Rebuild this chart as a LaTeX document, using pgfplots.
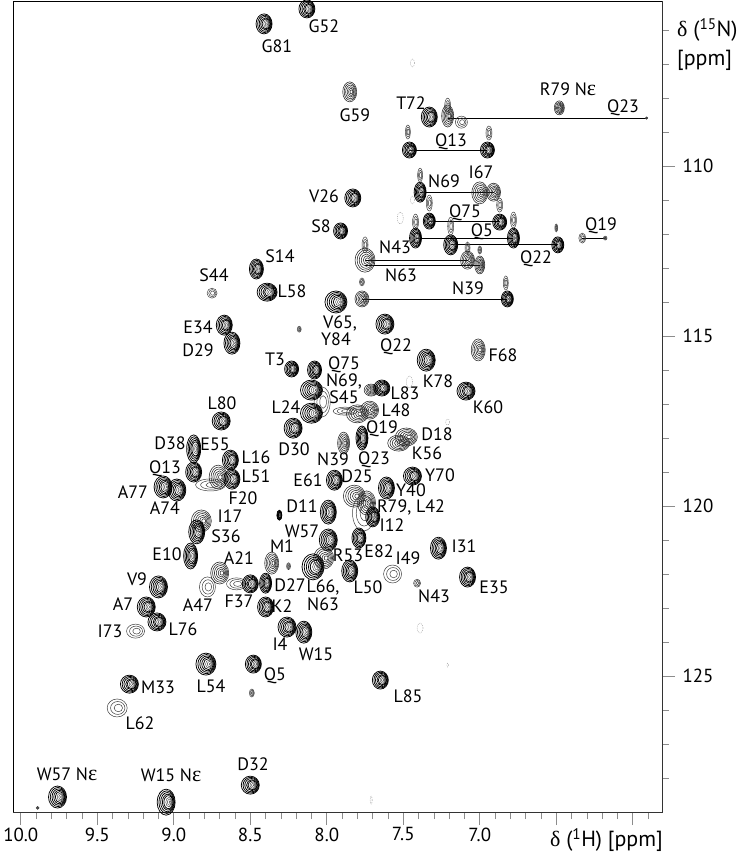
\documentclass[border=0pt]{standalone}
\usepackage{pgfplots}
\usepackage{fontspec}
\setmainfont{PT Sans}
\newfontfamily\grk{Liberation Serif}
\pgfplotsset{compat=1.18}
\newcommand\rng[2]{\pgfpathellipse{\pgfpoint{(1-#1)*#2*\prx bp}{0pt}}{\pgfpoint{#1*\prx bp}{0pt}}{\pgfpoint{0pt}{#1*\pry bp}}\pgfusepath{stroke}}
\pgfdeclareplotmark{pk}{%
  \pgfmathtruncatemacro\ptyi{\pty}%
  \ifnum\ptyi=1
    \pgfsetlinewidth{0.75bp}\pgfsetstrokecolor{black}%
    \foreach \f in {1,0.87,0.74,0.61,0.5}{\rng{\f}{0.5}}%
    \pgfsetlinewidth{0.4bp}\pgfsetstrokecolor{black!80}%
    \foreach \f in {0.36,0.24,0.12}{\rng{\f}{0.5}}%
  \fi
  \ifnum\ptyi=2
    \pgfsetlinewidth{0.55bp}\pgfsetstrokecolor{black!85}%
    \foreach \f in {1,0.84,0.68,0.52,0.36,0.2}{\rng{\f}{0.3}}%
  \fi
  \ifnum\ptyi=3
    \pgfsetlinewidth{0.5bp}\pgfsetstrokecolor{black!75}%
    \foreach \f in {1,0.72,0.42}{\rng{\f}{0.2}}%
  \fi
  \ifnum\ptyi=4
    \pgfsetlinewidth{0.35bp}\pgfsetstrokecolor{black!45}\pgfsetdash{{1bp}{1bp}}{0bp}%
    \pgfpathellipse{\pgfpointorigin}{\pgfpoint{\prx bp}{0pt}}{\pgfpoint{0pt}{\pry bp}}\pgfusepath{stroke}%
  \fi
}
\pgfplotstableread{
H N rx ry t
8.41 105.82 8 10 1
8.13 105.38 8 9 1
7.85 107.82 7 10 2
7.21 108.24 3 8 3
7.12 108.71 6 6 3
7.33 108.56 8 10 1
7.21 108.53 6 11 2
6.48 108.29 5 7 2
5.91 108.59 1.2 1.2 3
7.47 109.00 2.5 7 3
7.46 109.53 7 8 1
6.94 109.03 3 7 3
6.95 109.53 7 8 1
7.39 110.27 2.5 7 3
7.39 110.77 6 10 1
7.00 110.79 8 11 2
6.91 110.77 7 9 2
7.33 111.09 3 8 3
7.33 111.62 6 8 1
6.87 111.15 3 7 3
6.87 111.65 7 8 1
7.42 111.65 3 8 3
7.42 112.12 6 10 1
7.19 111.77 3 9 3
7.19 112.32 7 10 1
6.78 111.59 3 8 3
6.78 112.12 6 10 1
6.50 111.82 1.5 4 3
6.49 112.32 6 8 1
6.33 112.12 3.5 5 3
6.18 112.12 1.8 2 3
7.75 112.32 3 8 3
7.75 112.77 10 12 2
7.77 113.41 2.5 4 3
7.08 112.41 2.5 6 3
7.08 112.77 7 9 2
7.00 112.47 2 4 3
7.00 112.91 5 9 2
7.77 113.91 7 8 2
6.83 113.44 2.5 7 3
6.82 113.91 6 8 1
7.83 110.94 8 9 1
7.91 111.91 7 8 1
7.94 114.00 11 11 1
7.62 114.65 9 10 1
8.46 113.03 7 10 1
8.75 113.74 5 5 3
8.39 113.71 10 9 1
8.67 114.68 8 10 1
8.62 115.21 8 11 1
8.18 114.80 2 3 3
8.23 115.97 7 8 1
8.08 116.00 7 9 1
8.03 116.94 8 15 3
8.10 116.59 11 10 1
8.10 117.27 11 10 1
7.71 116.59 7 6 2
7.64 116.53 8 8 1
7.35 115.71 9 11 1
7.01 115.41 7 11 2
7.09 116.62 9 9 1
7.88 117.21 12 4 3
7.80 117.29 11 9 2
7.72 117.18 9 9 2
8.22 117.71 9 10 1
7.89 118.15 6 11 2
7.77 118.00 6 12 1
7.48 117.97 11 9 2
7.53 118.15 11 8 2
7.44 119.12 9 9 1
7.95 119.24 8 10 1
7.61 119.47 8 11 1
7.76 120.21 11 18 3
7.82 119.71 11 11 2
7.74 119.91 9 12 2
7.70 120.32 7 10 1
7.99 120.18 8 12 1
8.31 120.27 2.5 5 1
7.99 121.00 9 11 1
7.79 120.94 7 10 1
8.02 121.53 10 11 2
8.09 121.79 11 13 1
7.85 121.91 8 11 1
7.57 122.00 9 9 3
7.27 121.24 8 11 1
7.08 122.09 8 10 1
7.41 122.27 3.5 4 3
8.25 121.77 2 3.5 3
8.36 121.68 7 11 2
8.59 122.29 10 6 3
8.40 122.27 6 10 1
8.50 122.29 8 9 1
8.69 117.50 9 9 1
8.87 118.32 7 14 1
8.87 119.00 8 10 1
8.76 119.38 15 6 3
8.63 118.65 8 10 1
8.71 119.15 9 12 2
8.62 119.21 8 10 1
9.07 119.44 9 11 1
8.98 119.53 9 11 1
8.82 120.44 10 11 2
8.85 120.76 8 12 1
8.89 121.47 7 13 1
8.70 121.97 9 11 2
8.78 122.38 8 10 3
9.10 122.38 9 11 1
9.18 122.97 9 10 1
9.11 123.41 9 9 1
9.25 123.68 9 7 3
8.40 122.97 8 10 1
8.26 123.56 9 10 1
8.15 123.71 8 11 1
8.48 124.65 8 9 1
8.49 125.50 2.5 4 3
7.65 125.12 8 9 1
8.79 124.65 10 11 1
9.29 125.24 9 9 1
9.37 125.94 10 9 3
9.76 128.56 9 11 1
9.05 128.71 9 13 1
8.50 128.21 9 9 1
9.89 128.88 1.5 1.5 3
7.44 106.97 2 4 4
7.52 111.53 3 6 4
7.44 111.00 2 4 4
7.46 116.35 3 6 4
7.21 117.53 2 3 4
7.39 123.59 3 5 4
7.71 128.65 1 4 4
7.21 124.68 0.7 2 4
}\peaks
\newcommand\lb[3]{\node[inner sep=0pt,text height=11bp,text depth=0bp] at ({(#1-13)*1bp},{(812-#2)*1bp}) {#3};}
\newcommand\eps{{\grk\fontsize{22}{22}\selectfont ε}}
\begin{document}
\begin{tikzpicture}
\useasboundingbox (-13bp,-41bp) rectangle (728bp,812bp);
\begin{axis}[
  at={(0,0)},anchor=south west,scale only axis,
  width=649bp,height=811bp,
  x dir=reverse,y dir=reverse,
  xmin=5.809,xmax=10.051,ymin=105.147,ymax=129.0,
  xtick={6,6.5,7,7.5,8,8.5,9,9.5,10},
  xticklabels={,,7.0,7.5,8.0,8.5,9.0,9.5,10.0},
  minor xtick={5.8,5.9,6.1,6.2,6.3,6.4,6.6,6.7,6.8,6.9,7.1,7.2,7.3,7.4,7.6,7.7,7.8,7.9,8.1,8.2,8.3,8.4,8.6,8.7,8.8,8.9,9.1,9.2,9.3,9.4,9.6,9.7,9.8,9.9},
  ytick={110,115,120,125},
  yticklabels={110,115,120,125},
  minor ytick={106,107,108,109,111,112,113,114,116,117,118,119,121,122,123,124,126,127,128},
  xtick pos=bottom,ytick pos=right,
  tick align=outside,
  major tick length=13bp,minor tick length=7bp,
  every tick/.style={black!45,line width=0.9bp},
  every minor tick/.style={black!45,line width=0.7bp},
  tick label style={font=\fontsize{19}{22}\selectfont},
  yticklabel style={xshift=4bp},
  xticklabel style={yshift=1bp},
  axis line style={black!80,line width=0.9bp},
  clip=true,
]
\addplot[black,line width=0.8bp] coordinates {(7.21,108.59)(5.91,108.59)};
\addplot[black,line width=0.8bp] coordinates {(7.46,109.53)(6.95,109.53)};
\addplot[black,line width=0.8bp] coordinates {(7.39,110.77)(6.91,110.77)};
\addplot[black,line width=0.8bp] coordinates {(7.33,111.62)(6.87,111.62)};
\addplot[black,line width=0.8bp] coordinates {(7.42,112.12)(6.78,112.12)};
\addplot[black,line width=0.8bp] coordinates {(7.19,112.32)(6.49,112.32)};
\addplot[black,line width=0.8bp] coordinates {(6.33,112.12)(6.18,112.12)};
\addplot[black,line width=0.8bp] coordinates {(7.75,112.77)(7.08,112.77)};
\addplot[black,line width=0.8bp] coordinates {(7.75,112.91)(7.00,112.91)};
\addplot[black,line width=0.8bp] coordinates {(7.77,113.91)(6.82,113.91)};
\addplot[scatter,only marks,mark=pk,
  scatter/@pre marker code/.code={},scatter/@post marker code/.code={},
  visualization depends on={\thisrow{rx}\as\prx},
  visualization depends on={\thisrow{ry}\as\pry},
  visualization depends on={\thisrow{t}\as\pty},
] table[x=H,y=N] {\peaks};
\end{axis}
\draw[black,line width=0.9bp] (0,811bp) -- (649bp,811bp);
\draw[black,line width=0.9bp] (0,0) -- (0,811bp);
\begin{scope}[font=\fontsize{18}{20}\selectfont,black]
\lb{277}{47}{G81}\lb{324}{27}{G52}\lb{355}{116}{G59}\lb{411}{104}{T72}
\lb{568}{90}{R79 N\eps}\lb{623}{107}{Q23}\lb{451}{141}{Q13}\lb{481}{173}{I67}
\lb{444}{182}{N69}\lb{324}{197}{V26}\lb{465}{212}{Q75}\lb{482}{231}{Q5}
\lb{321}{227}{S8}\lb{601}{225}{Q19}\lb{395}{248}{N43}\lb{536}{258}{Q22}
\lb{401}{276}{N63}\lb{468}{289}{N39}\lb{280}{257}{S14}\lb{214}{276}{S44}
\lb{292}{292}{L58}\lb{198}{328}{E34}\lb{198}{351}{D29}
\lb{340}{323}{V65,}\lb{336}{340}{Y84}\lb{396}{346}{Q22}\lb{503}{356}{F68}
\lb{438}{382}{K78}\lb{275}{360}{T3}\lb{344}{364}{Q75}\lb{344}{381}{N69,}
\lb{344}{398}{S45}\lb{405}{394}{L83}\lb{488}{408}{K60}\lb{396}{411}{L48}
\lb{286}{408}{L24}\lb{222}{404}{L80}\lb{437}{435}{D18}\lb{382}{428}{Q19}
\lb{294}{450}{D30}\lb{427}{454}{K56}\lb{333}{460}{N39}\lb{374}{459}{Q23}
\lb{440}{476}{Y70}\lb{357}{477}{D25}\lb{308}{481}{E61}\lb{411}{491}{Y40}
\lb{256}{458}{L16}\lb{256}{477}{L51}\lb{243}{499}{F20}\lb{170}{444}{D38}
\lb{215}{445}{E55}\lb{165}{468}{Q13}\lb{133}{493}{A77}\lb{165}{509}{A74}
\lb{411}{507}{R79, L42}\lb{302}{507}{D11}\lb{230}{517}{I17}\lb{392}{526}{I12}
\lb{226}{537}{S36}\lb{302}{532}{W57}\lb{167}{555}{E10}\lb{379}{552}{E82}
\lb{282}{547}{M1}\lb{239}{559}{A21}\lb{348}{556}{R53}\lb{408}{559}{I49}
\lb{464}{547}{I31}\lb{290}{586}{D27}\lb{323}{587}{L66,}\lb{323}{605}{N63}
\lb{368}{588}{L50}\lb{434}{597}{N43}\lb{494}{588}{E35}\lb{137}{580}{V9}
\lb{123}{605}{A7}\lb{198}{606}{A47}\lb{239}{602}{F37}\lb{282}{607}{K2}
\lb{183}{630}{L76}\lb{110}{632}{I73}\lb{280}{645}{I4}\lb{316}{655}{W15}
\lb{275}{675}{Q5}\lb{211}{687}{L54}\lb{158}{688}{M33}\lb{408}{697}{L85}
\lb{140}{724}{L62}\lb{67}{775}{W57 N\eps}\lb{171}{776}{W15 N\eps}\lb{253}{765}{D32}
\end{scope}
\begin{scope}[font=\fontsize{22}{26}\selectfont,black]
\node[inner sep=0pt,anchor=east] at (650bp,-28bp) {{\grk δ} (\textsuperscript{1}H) [ppm]};
\node[inner sep=0pt,anchor=west] at (664bp,782bp) {{\grk δ} (\textsuperscript{15}N)};
\node[inner sep=0pt,anchor=west] at (664bp,752bp) {[ppm]};
\end{scope}
\end{tikzpicture}
\end{document}
